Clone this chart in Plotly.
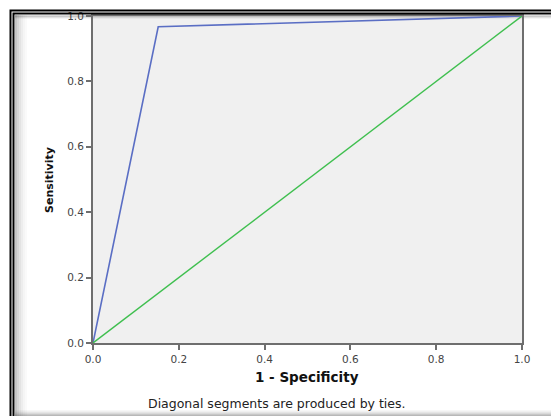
import plotly.graph_objects as go

# Data
fpr = [0.0, 0.152, 1.0]
tpr = [0.0, 0.967, 1.0]
ref_x = [0.0, 1.0]
ref_y = [0.0, 1.0]
tick_vals = [0.0, 0.2, 0.4, 0.6, 0.8, 1.0]
tick_text = ["0.0", "0.2", "0.4", "0.6", "0.8", "1.0"]

# page body has an 8px margin; work in window pixels and offset
OFF = 8
W, H = 559 - OFF, 416 - OFF
L, R, T, B = 93 - OFF, 559 - 522, 16 - OFF, 416 - 343
PW, PH = W - L - R, H - T - B

def px(x):
    return (x - OFF - L) / PW

def py(y):
    return (H - B - (y - OFF)) / PH

FONT = "DejaVu Sans, Verdana, sans-serif"

fig = go.Figure()
fig.add_trace(go.Scatter(x=fpr, y=tpr, mode="lines",
                         line=dict(color="#5a6ec4", width=1.6), hoverinfo="skip"))
fig.add_trace(go.Scatter(x=ref_x, y=ref_y, mode="lines",
                         line=dict(color="#3fbf4f", width=1.4), hoverinfo="skip"))

axis_common = dict(range=[0, 1], showgrid=False, zeroline=False, showline=True,
                   linecolor="#6e6e6e", linewidth=2, mirror=True, automargin=False,
                   ticks="outside", ticklen=5, tickwidth=2, tickcolor="#6e6e6e",
                   tickvals=tick_vals, ticktext=tick_text,
                   tickfont=dict(family=FONT, size=10.5, color="#444444"))

shapes = []
# shadow gradient inside frame (left and top)
for i, op in enumerate([0.22, 0.16, 0.11, 0.07, 0.04, 0.02]):
    shapes.append(dict(type="rect", xref="paper", yref="paper",
                       x0=px(15 + 2 * i), x1=px(17 + 2 * i), y0=py(420), y1=py(15),
                       fillcolor=f"rgba(0,0,0,{op})", line=dict(width=0), layer="below"))
for i, op in enumerate([0.15, 0.08, 0.04]):
    shapes.append(dict(type="rect", xref="paper", yref="paper",
                       x0=px(15), x1=px(570), y0=py(17 + i), y1=py(15 + i),
                       fillcolor=f"rgba(0,0,0,{op})", line=dict(width=0), layer="below"))
# bottom shadow
for i, op in enumerate([0.03, 0.06, 0.10, 0.15, 0.22, 0.28]):
    shapes.append(dict(type="rect", xref="paper", yref="paper",
                       x0=px(15), x1=px(570), y0=py(411 + i), y1=py(410 + i),
                       fillcolor=f"rgba(0,0,0,{op})", line=dict(width=0), layer="below"))
# double black frame
shapes.append(dict(type="rect", xref="paper", yref="paper",
                   x0=px(10.5), x1=px(700), y0=py(700), y1=py(10.5),
                   line=dict(color="black", width=2), fillcolor="rgba(0,0,0,0)"))
shapes.append(dict(type="rect", xref="paper", yref="paper",
                   x0=px(13.5), x1=px(700), y0=py(700), y1=py(13.5),
                   line=dict(color="black", width=2), fillcolor="rgba(0,0,0,0)"))

annotations = [
    dict(text="<b>1 - Specificity</b>", xref="paper", yref="paper", x=px(307), y=py(377),
         showarrow=False, font=dict(family=FONT, size=13.5, color="#111111"),
         xanchor="center", yanchor="middle"),
    dict(text="<b>Sensitivity</b>", xref="paper", yref="paper", x=px(50), y=py(180),
         showarrow=False, textangle=-90,
         font=dict(family=FONT, size=11, color="#111111"),
         xanchor="center", yanchor="middle"),
    dict(text="Diagonal segments are produced by ties.", xref="paper", yref="paper",
         x=px(277), y=py(403), showarrow=False,
         font=dict(family=FONT, size=12.5, color="#222222"),
         xanchor="center", yanchor="middle"),
]

fig.update_layout(
    width=W, height=H,
    margin=dict(l=L, r=R, t=T, b=B, pad=0, autoexpand=False),
    paper_bgcolor="white", plot_bgcolor="#f0f0f0",
    showlegend=False,
    xaxis=axis_common,
    yaxis=axis_common,
    shapes=shapes,
    annotations=annotations,
)

fig.write_html("out.html")
